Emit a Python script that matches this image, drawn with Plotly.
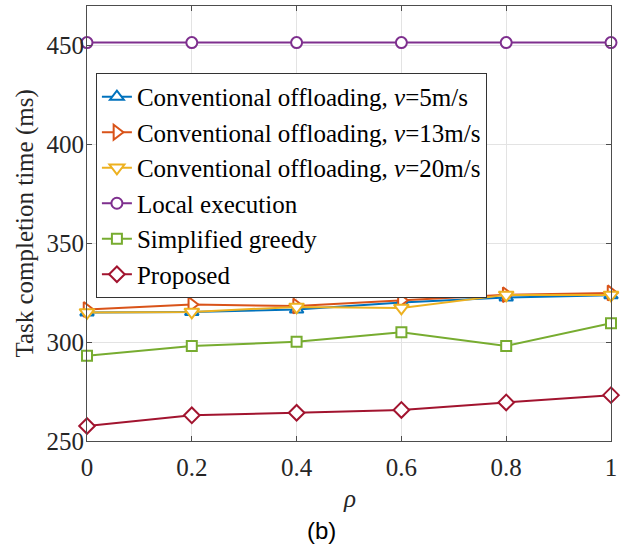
import plotly.graph_objects as go

rho = [0, 0.2, 0.4, 0.6, 0.8, 1]
x_tick_labels = ["0", "0.2", "0.4", "0.6", "0.8", "1"]
y_ticks = [250, 300, 350, 400, 450]

conv_5 = [315.0, 315.3, 316.5, 320.0, 322.6, 323.7]
conv_13 = [316.5, 319.0, 318.3, 321.2, 324.0, 324.9]
conv_20 = [315.0, 315.3, 317.8, 317.3, 323.9, 323.9]
local_exec = [451.5, 451.5, 451.5, 451.5, 451.5, 451.5]
simplified_greedy = [293.1, 298.0, 300.2, 305.0, 298.1, 309.6]
proposed = [257.6, 263.0, 264.3, 265.7, 269.5, 273.2]

names = [
    "Conventional offloading, <i>v</i>=5m/s",
    "Conventional offloading, <i>v</i>=13m/s",
    "Conventional offloading, <i>v</i>=20m/s",
    "Local execution",
    "Simplified greedy",
    "Proposed",
]
series = [conv_5, conv_13, conv_20, local_exec, simplified_greedy, proposed]
colors = ["#0072BD", "#D95319", "#EDB120", "#7E2F8E", "#77AC30", "#A2142F"]
symbols = ["triangle-up", "triangle-right", "triangle-down", "circle", "square", "diamond"]
sizes = [12, 13, 13, 11, 10, 12]

fig = go.Figure()
for name, ys, c, s, sz in zip(names, series, colors, symbols, sizes):
    fig.add_trace(go.Scatter(
        x=rho, y=ys, name=name, mode="lines+markers",
        line=dict(color=c, width=2),
        marker=dict(symbol=s, size=sz, color="white", line=dict(color=c, width=2)),
        cliponaxis=False,
    ))

axis_common = dict(
    showline=True, linecolor="#4d4d4d", linewidth=1, mirror="ticks",
    ticks="inside", ticklen=5, tickcolor="#4d4d4d",
    showgrid=True, gridcolor="#e3e3e3", gridwidth=1, zeroline=False,
    automargin=False,
    tickfont=dict(family="Liberation Serif", size=25, color="#262626"),
)

fig.update_layout(
    width=635, height=550,
    margin=dict(l=87, r=24, t=6, b=109),
    paper_bgcolor="white", plot_bgcolor="white",
    showlegend=True,
    legend=dict(
        x=0.017, y=0.846, xanchor="left", yanchor="top",
        bgcolor="white", bordercolor="#333333", borderwidth=1,
        font=dict(family="Liberation Serif", size=25, color="black"),
        tracegroupgap=0, itemwidth=30,
    ),
    xaxis=dict(range=[0, 1], tickvals=rho, ticktext=x_tick_labels,
               ticklabelstandoff=4, **axis_common),
    yaxis=dict(range=[250, 470], tickvals=y_ticks,
               ticklabelstandoff=-3, **axis_common),
    annotations=[
        dict(text="<i>ρ</i>", xref="paper", yref="paper", x=0.5, y=-0.133,
             yanchor="middle", showarrow=False,
             font=dict(family="Liberation Serif", size=25, color="#262626")),
        dict(text="Task completion time (ms)", xref="paper", yref="paper",
             x=-0.12, y=0.5, xanchor="center", yanchor="middle", textangle=-90,
             showarrow=False,
             font=dict(family="Liberation Serif", size=25, color="#262626")),
        dict(text="(b)", xref="paper", yref="paper", x=0.448, y=-0.205,
             yanchor="middle", showarrow=False,
             font=dict(family="Liberation Sans", size=24, color="black")),
    ],
)

fig.write_html("out.html", config={"displayModeBar": False},
               post_script="document.body.style.margin='0';")
